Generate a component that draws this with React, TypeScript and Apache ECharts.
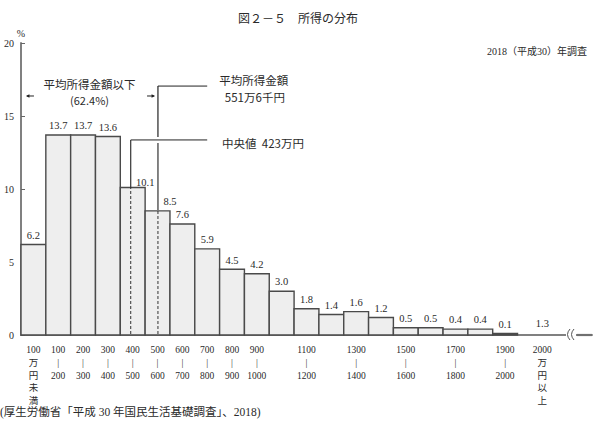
import React, { useEffect, useRef } from "react";
import * as echarts from "echarts";

// ---- data (万円 bins, % of households) ----
const binStarts = [0, 100, 200, 300, 400, 500, 600, 700, 800, 900, 1000, 1100, 1200, 1300, 1400, 1500, 1600, 1700, 1800, 1900];
const shares = [6.2, 13.7, 13.7, 13.6, 10.1, 8.5, 7.6, 5.9, 4.5, 4.2, 3.0, 1.8, 1.4, 1.6, 1.2, 0.5, 0.5, 0.4, 0.4, 0.1];
const binWidth = 100;
const topBinStart = 2000;
const topBinEnd = 2200;
const topBinShare = 1.3;

const tickPositions = [50, 150, 250, 350, 450, 550, 650, 750, 850, 950, 1150, 1350, 1550, 1750, 1950, 2100];
const tickLabels = [
  "100\n万\n円\n未\n満",
  "100\n|\n200",
  "200\n|\n300",
  "300\n|\n400",
  "400\n|\n500",
  "500\n|\n600",
  "600\n|\n700",
  "700\n|\n800",
  "800\n|\n900",
  "900\n|\n1000",
  "1100\n|\n1200",
  "1300\n|\n1400",
  "1500\n|\n1600",
  "1700\n|\n1800",
  "1900\n|\n2000",
  "2000\n万\n円\n以\n上",
];

const meanIncome = 551.6; // 平均所得金額
const meanBarShare = 8.5;
const medianMarker = 442; // drawn position of the 中央値 marker
const medianBarShare = 10.1;

// label nudges (pixels) for labels moved aside from the marker lines
const labelNudgeX: Record<number, number> = { 4: 12.5, 5: 12.5 };
const labelNudgeY: Record<number, number> = { 4: 4 };

const SERIF = "'Liberation Serif', 'DejaVu Serif', 'Noto Sans CJK JP', serif";
const CJK = "'Noto Sans CJK JP', 'Liberation Serif', serif";
const TXT = "#2a2a2a";

export default function App() {
  const ref = useRef<HTMLDivElement>(null);
  useEffect(() => {
    if (!ref.current) return;
    const chart = echarts.init(ref.current, undefined, { renderer: "svg" });

    const barData = binStarts.map((s, i) => [s, s + binWidth, shares[i], 1]);
    barData.push([topBinStart, topBinEnd, topBinShare, 0]);

    const labelMap = new Map<number, string>();
    tickPositions.forEach((p, i) => labelMap.set(p, tickLabels[i]));

    const renderBar = (params: any, api: any) => {
      const i = params.dataIndex;
      const x0 = api.value(0);
      const x1 = api.value(1);
      const v = api.value(2);
      const drawn = api.value(3) === 1;
      const pTop = api.coord([x0, drawn ? v : 0]);
      const pBase = api.coord([x1, 0]);
      const children: any[] = [];
      if (drawn) {
        children.push({
          type: "rect",
          shape: { x: pTop[0], y: pTop[1], width: pBase[0] - pTop[0], height: pBase[1] - pTop[1] },
          style: { fill: "#eeeeee", stroke: "#4a4a4a", lineWidth: 1.4 },
        });
      }
      children.push({
        type: "text",
        x: (pTop[0] + pBase[0]) / 2 + (labelNudgeX[i] || 0),
        y: pTop[1] - 4 + (labelNudgeY[i] || 0) - (drawn ? 0 : 2),
        z2: 20,
        style: {
          text: v.toFixed(1),
          fill: TXT,
          fontSize: 10.5,
          fontFamily: SERIF,
          align: "center",
          verticalAlign: "bottom",
        },
      });
      return { type: "group", children };
    };

    const renderAnnotations = (params: any, api: any) => {
      const c = (x: number, y: number) => api.coord([x, y]);
      const [mx, my0] = c(meanIncome, 0);
      const myBar = c(meanIncome, meanBarShare)[1];
      const myTop = c(meanIncome, 17.05)[1];
      const lx = c(750, 0)[0];
      const [dx, dy0] = c(medianMarker, 0);
      const dyBar = c(medianMarker, medianBarShare)[1];
      const dyTop = c(medianMarker, 13.36)[1];
      const ln = (x1: number, y1: number, x2: number, y2: number, stroke: string, w: number, dash?: number[]) => ({
        type: "line",
        shape: { x1, y1, x2, y2 },
        style: { stroke, lineWidth: w, lineDash: dash },
      });
      const tx = (text: string, p: number[], align: string, size: number) => ({
        type: "text",
        x: p[0],
        y: p[1],
        style: { text, fill: TXT, fontSize: size, fontFamily: CJK, align, verticalAlign: "middle" },
      });
      const ay = c(0, 16.37)[1];
      const la = c(20, 0)[0];
      const ra = c(540, 0)[0];
      return {
        type: "group",
        children: [
          ln(mx, my0 - 1, mx, myBar, "#333", 1, [3, 2]),
          ln(mx, myBar, mx, dyTop + 3, "#777", 1.8),
          ln(mx, dyTop - 3, mx, myTop, "#333", 1.3),
          ln(mx, myTop, lx, myTop, "#222", 1),
          ln(dx, dy0 - 1, dx, dyBar, "#333", 1, [3, 2]),
          ln(dx, dyBar, dx, dyTop, "#222", 1.1),
          ln(dx, dyTop, lx, dyTop, "#222", 1),
          tx("平均所得金額", c(938, 17.47), "center", 11.5),
          tx("551万6千円", c(942, 16.3), "center", 11.5),
          tx("平均所得金額以下", c(276, 17.19), "center", 11.5),
          tx("(62.4%)", c(276, 16.1), "center", 11),
          tx("中央値  423万円", c(810, 13.15), "left", 11.5),
          ln(la + 1, ay, la + 8, ay, "#222", 1),
          { type: "polygon", shape: { points: [[la, ay], [la + 3.5, ay - 1.8], [la + 3.5, ay + 1.8]] }, style: { fill: "#222" } },
          ln(ra - 8, ay, ra - 1, ay, "#222", 1),
          { type: "polygon", shape: { points: [[ra, ay], [ra - 3.5, ay - 1.8], [ra - 3.5, ay + 1.8]] }, style: { fill: "#222" } },
        ],
      };
    };

    const option: any = {
      animation: false,
      textStyle: { fontFamily: SERIF },
      title: [
        {
          text: "図２－５　所得の分布",
          left: 233,
          top: 6,
          textStyle: { fontSize: 12, fontWeight: "normal", color: TXT, fontFamily: CJK },
        },
        {
          text: "2018（平成30）年調査",
          right: 8,
          top: 41,
          textStyle: { fontSize: 10, fontWeight: "normal", color: TXT, fontFamily: SERIF },
        },
        {
          text: "(厚生労働省「平成 30 年国民生活基礎調査」、2018)",
          left: 0,
          top: 406,
          padding: 0,
          textStyle: { fontSize: 11.5, fontWeight: "normal", color: TXT, fontFamily: SERIF },
        },
      ],
      grid: { left: 21, right: 8, top: 43, bottom: 92, containLabel: false, outerBoundsMode: "none" },
      xAxis: {
        type: "value",
        min: 0,
        max: 2300,
        axisLine: { show: true, lineStyle: { color: "#808080", width: 2 } },
        axisTick: { show: false },
        splitLine: { show: false },
        axisLabel: {
          customValues: tickPositions,
          formatter: (v: number) => labelMap.get(Math.round(v)) ?? "",
          fontSize: 9.5,
          lineHeight: 12.7,
          color: TXT,
          margin: 9,
          fontFamily: SERIF,
        },
      },
      yAxis: {
        type: "value",
        min: 0,
        max: 20,
        interval: 5,
        name: "%",
        nameGap: 3,
        nameTextStyle: { fontSize: 10, color: TXT, fontFamily: SERIF },
        axisLine: { show: true, lineStyle: { color: "#808080", width: 2 } },
        axisTick: { show: true, inside: true, length: 4, lineStyle: { color: "#666" } },
        splitLine: { show: false },
        axisLabel: { fontSize: 10, color: TXT, margin: 7, fontFamily: SERIF },
      },
      series: [
        {
          type: "custom",
          name: "所得の分布",
          data: barData,
          encode: { x: [0, 1], y: 2 },
          renderItem: renderBar,
          z: 2,
        },
        {
          type: "custom",
          name: "annotations",
          data: [[0, 0]],
          encode: { x: 0, y: 1 },
          renderItem: renderAnnotations,
          z: 5,
        },
      ],
      graphic: [
        { type: "rect", shape: { x: 566, y: 332, width: 10, height: 6 }, style: { fill: "#fff" }, z: 10 },
        { type: "bezierCurve", shape: { x1: 570, y1: 329, x2: 570, y2: 340, cpx1: 565, cpy1: 334.5 }, style: { stroke: "#555", lineWidth: 1, fill: "none" }, z: 11 },
        { type: "bezierCurve", shape: { x1: 574, y1: 329, x2: 574, y2: 340, cpx1: 569, cpy1: 334.5 }, style: { stroke: "#555", lineWidth: 1, fill: "none" }, z: 11 },
        { type: "line", shape: { x1: 577, y1: 335, x2: 592, y2: 335 }, style: { stroke: "#707070", lineWidth: 2.2 }, z: 11 },
      ],
    };

    chart.setOption(option);
    return () => chart.dispose();
  }, []);
  return (
    <div
      ref={ref}
      style={{ position: "fixed", left: 0, top: 0, width: 600, height: 427, background: "#fff" }}
    />
  );
}
